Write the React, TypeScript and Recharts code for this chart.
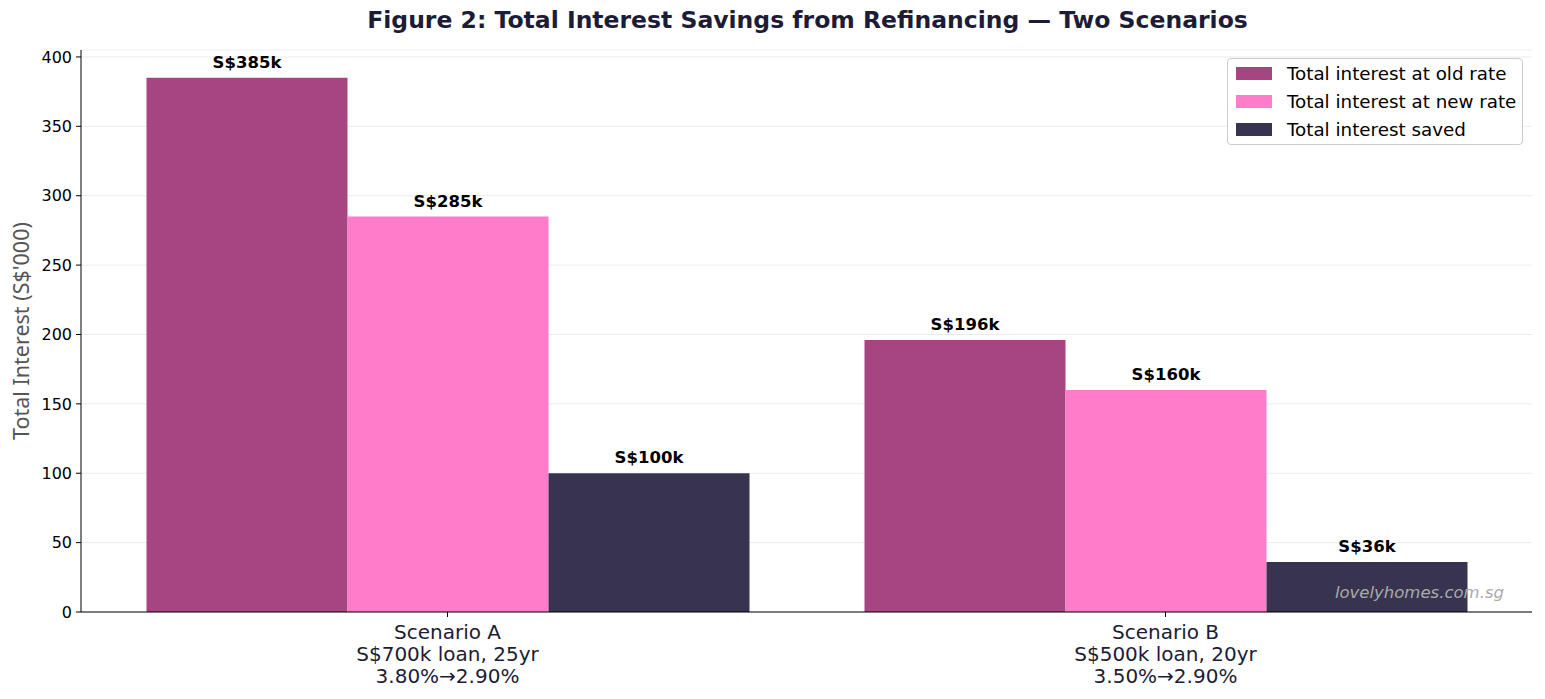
import React from 'react'
import {
  BarChart,
  Bar,
  XAxis,
  YAxis,
  CartesianGrid,
  LabelList,
} from 'recharts'

const scenarios = ['Scenario A', 'Scenario B']
const scenarioLoans = ['S$700k loan, 25yr', 'S$500k loan, 20yr']
const scenarioRates = ['3.80%→2.90%', '3.50%→2.90%']
const oldRateInterest = [385, 196]
const newRateInterest = [285, 160]
const interestSaved = [100, 36]
const yTicks = [0, 50, 100, 150, 200, 250, 300, 350, 400]

const series = [
  { key: 'oldRate', name: 'Total interest at old rate', color: '#A64580' },
  { key: 'newRate', name: 'Total interest at new rate', color: '#FF7CCA' },
  { key: 'saved', name: 'Total interest saved', color: '#383450' },
]

const data = scenarios.map((s, i) => ({
  name: s,
  loan: scenarioLoans[i],
  rate: scenarioRates[i],
  oldRate: oldRateInterest[i],
  newRate: newRateInterest[i],
  saved: interestSaved[i],
}))

const font = 'DejaVu Sans, sans-serif'

function ScenarioTick(props: any) {
  const { x, y, payload } = props
  const d = data.find((r) => r.name === payload.value)
  return (
    <text x={x} y={y} textAnchor="middle" fill="#1c1c36" fontFamily={font} fontSize={20}>
      <tspan x={x} dy={20}>{payload.value}</tspan>
      <tspan x={x} dy={22}>{d?.loan}</tspan>
      <tspan x={x} dy={22}>{d?.rate}</tspan>
    </text>
  )
}

function LegendBox() {
  return (
    <div
      style={{
        position: 'absolute',
        left: 1227,
        top: 58,
        width: 296,
        height: 87,
        boxSizing: 'border-box',
        border: '1px solid #cccccc',
        borderRadius: 4,
        background: 'rgba(255,255,255,0.85)',
        padding: '0 0 0 8px',
        fontFamily: font,
        fontSize: 18.3,
        color: '#000',
      }}
    >
      {series.map((s) => (
        <div key={s.key} style={{ display: 'flex', alignItems: 'center', height: 28, whiteSpace: 'nowrap' }}>
          <span style={{ display: 'inline-block', width: 36, height: 13, background: s.color, marginRight: 15 }} />
          <span>{s.name}</span>
        </div>
      ))}
    </div>
  )
}

export default function App() {
  return (
    <div style={{ position: 'absolute', left: 0, top: 0, width: 1545, height: 699, background: '#fff' }}>
      <div
        style={{
          position: 'absolute',
          left: 0,
          top: 6,
          width: 1615,
          textAlign: 'center',
          fontFamily: font,
          fontWeight: 'bold',
          fontSize: 23.5,
          color: '#1c1c36',
        }}
      >
        Figure 2: Total Interest Savings from Refinancing — Two Scenarios
      </div>
      <div
        style={{
          position: 'absolute',
          left: 20,
          top: 331,
          transform: 'translate(-50%, -50%) rotate(-90deg)',
          whiteSpace: 'nowrap',
          fontFamily: 'Noto Sans, sans-serif',
          fontSize: 21.5,
          color: '#555555',
        }}
      >
        Total Interest (S$'000)
      </div>
      <BarChart
        width={1545}
        height={699}
        data={data}
        margin={{ top: 50, right: 13, left: 0, bottom: 7 }}
        barGap={0}
        barSize={201}
        style={{ position: 'absolute', left: 0, top: 0 }}
      >
        <CartesianGrid vertical={false} stroke="#ebebeb" strokeWidth={1} />
        <XAxis
          dataKey="name"
          height={80}
          padding={{ left: 7.5, right: 7.5 }}
          stroke="#000"
          tickSize={5}
          tick={<ScenarioTick />}
          tickLine={{ stroke: '#000' }}
          axisLine={{ stroke: '#000' }}
        />
        <YAxis
          width={81}
          domain={[0, 405]}
          ticks={yTicks}
          interval={0}
          tickSize={5}
          tickMargin={4}
          stroke="#000"
          tick={{ fill: '#000', fontFamily: font, fontSize: 16 }}
        />
        {series.map((s) => (
          <Bar key={s.key} dataKey={s.key} name={s.name} fill={s.color} isAnimationActive={false}>
            <LabelList
              dataKey={s.key}
              position="top"
              offset={10}
              formatter={(v: any) => `S$${v}k`}
              style={{ fill: '#000', fontFamily: font, fontSize: 16.5, fontWeight: 'bold' }}
            />
          </Bar>
        ))}
      </BarChart>
      <LegendBox />
      <div
        style={{
          position: 'absolute',
          right: 41,
          top: 583,
          fontFamily: font,
          fontStyle: 'italic',
          fontSize: 16.5,
          color: '#aaaaaa',
        }}
      >
        lovelyhomes.com.sg
      </div>
    </div>
  )
}
